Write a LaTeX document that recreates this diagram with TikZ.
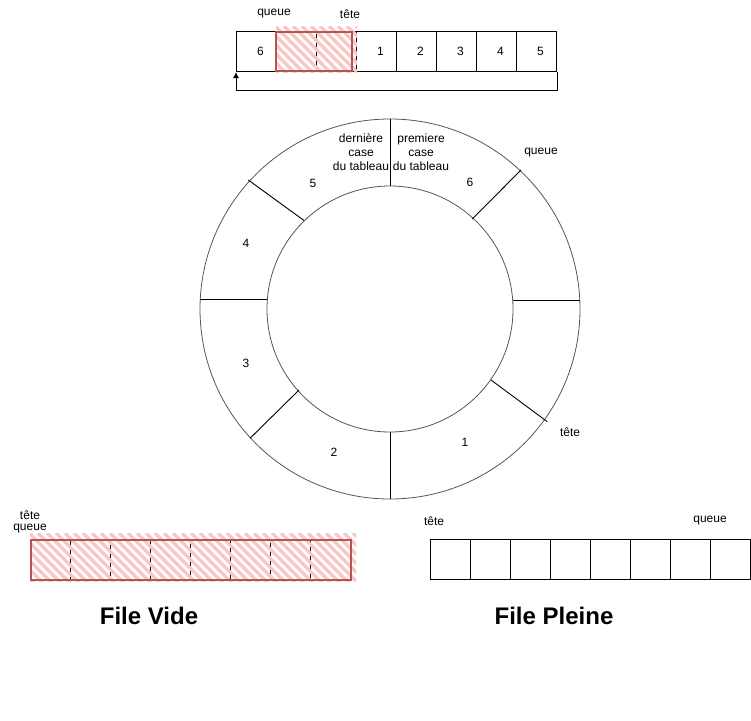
\documentclass[tikz,border=0pt]{standalone}
\usepackage{fontspec}
\setmainfont{Liberation Sans}
\usetikzlibrary{arrows.meta}
\definecolor{hatchc}{HTML}{F8C8C6}
\definecolor{redb}{HTML}{B85450}
\definecolor{ringc}{HTML}{555555}
\newcommand\hatchbox[4]{%
  \begin{scope}
    \clip (#1,#2) rectangle (#3,#4);
    \foreach \k in {-64,-55,...,400}{\draw[hatch] ({#1+\k},#2) -- ++(64,64);}
  \end{scope}}
\begin{document}
\begin{tikzpicture}[x=1pt,y=-1pt,
  every node/.style={font=\fontsize{12}{14}\selectfont, inner sep=0pt},
  cell/.style={draw, line width=1pt, minimum width=40pt, minimum height=40pt, anchor=north west},
  hatch/.style={hatchc, line width=3.5pt},
  redborder/.style={draw=redb, line width=1.6pt},
  ring/.style={draw=ringc, line width=0.8pt, circle},
  divider/.style={line width=0.9pt},
  lbl/.style={align=center},
  title/.style={font=\fontsize{24}{28}\selectfont\bfseries}]
\useasboundingbox (0,0) rectangle (751,720);

% ---------- top array ----------
\node[cell, label={[xshift=4pt]center:6}] (t1) at (236,31) {};
\node[cell] (t2) at (276,31) {};
\node[cell] (t3) at (316,31) {};
\node[cell, label={[xshift=4pt]center:1}] (t4) at (356,31) {};
\node[cell, label={[xshift=4pt]center:2}] (t5) at (396,31) {};
\node[cell, label={[xshift=4pt]center:3}] (t6) at (436,31) {};
\node[cell, label={[xshift=4pt]center:4}] (t7) at (476,31) {};
\node[cell, label={[xshift=4pt]center:5}] (t8) at (516,31) {};
\hatchbox{276}{26}{357}{72}
\node[redborder, anchor=north west, minimum width=76pt, minimum height=39pt] (thl) at (275,31) {};
\node (tq) at (274,14) {queue};
\node (tt) at (350,14) {tête};
\draw[line width=1pt, -{Latex[length=6pt,width=6pt]}] (t8.south east) -- ++(0,18) -| (t1.south west);

% ---------- ring ----------
\node[ring, minimum size=380pt] (outer) at (390,309) {};
\node[ring, minimum size=246pt] (inner) at (390,309) {};
\draw[divider] (390,119) -- (390,186);
\draw[divider] (390,432) -- (390,499);
\draw[divider] (200.2,299) -- (267.3,299);
\draw[divider] (512.7,300) -- (579.8,300);
\draw[divider] (248.3,180) -- (304.3,220.7);
\draw[divider] (521,170) -- (472.3,219);
\draw[divider] (299,390) -- (250,438.3);
\draw[divider] (491,380) -- (547.3,421.7);
\node (r5) at (313,183) {5};
\node (r6) at (470,182) {6};
\node (r4) at (246,243) {4};
\node (r3) at (246,363) {3};
\node (r2) at (334,452) {2};
\node (r1) at (465,442) {1};
\node[lbl] (dern) at (361,152) {dernière\\case\\du tableau};
\node[lbl] (prem) at (421,152) {premiere\\case\\du tableau};
\node (rq) at (541,153) {queue};
\node (rt) at (570,432) {tête};

% ---------- empty queue ----------
\foreach \i/\x in {1/30,2/70,3/110,4/150,5/190,6/230,7/270,8/310}
  \node[cell] (v\i) at (\x,539) {};
\hatchbox{30}{533}{356}{581}
\node[redborder, anchor=north west, minimum width=320pt, minimum height=40pt] (vhl) at (30,539) {};
\node (vt) at (30,515) {tête};
\node (vq) at (30,529) {queue};
\node[title] (vtitle) at (149,616) {File Vide};

% ---------- full queue ----------
\foreach \i/\x in {1/430,2/470,3/510,4/550,5/590,6/630,7/670,8/710}
  \node[cell] (p\i) at (\x,539) {};
\node (pt) at (434,521) {tête};
\node (pq) at (710,521) {queue};
\node[title] (ptitle) at (554,616) {File Pleine};
\end{tikzpicture}
\end{document}
